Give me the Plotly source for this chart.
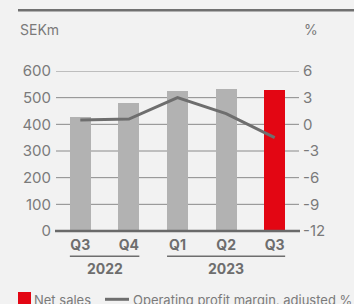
import plotly.graph_objects as go

quarters = ["Q3", "Q4", "Q1", "Q2", "Q3"]
years = ["2022", "2023"]
year_groups = [[0, 1], [2, 3, 4]]
net_sales = [428, 481, 526, 534, 530]
op_margin = [0.5, 0.6, 3.0, 1.2, -1.5]
left_ticks = [0, 100, 200, 300, 400, 500, 600]
right_ticks = [-12, -9, -6, -3, 0, 3, 6]
right_labels = ["-12", "-9", "-6", "-3", "0", "3", "6"]

W, H = 354, 304
L, R, T, B = 56, 55, 71, 73
PW, PH = W - L - R, H - T - B

def px(x):
    return (x - L) / PW

def py(y):
    return (H - B - y) / PH

FONT = "Inter, Roboto, Arial, sans-serif"
GREY_TXT = "#7a7a7a"
DARK = "#6e6e6e"
bar_colors = ["#b2b2b2"] * (len(net_sales) - 1) + ["#e30613"]
xs = list(range(len(quarters)))

fig = go.Figure()
fig.add_trace(go.Bar(x=xs, y=net_sales, marker=dict(color=bar_colors, line=dict(width=0)),
                     width=0.43, showlegend=False, hoverinfo="skip"))
fig.add_trace(go.Scatter(x=xs, y=op_margin, yaxis="y2", mode="lines",
                         line=dict(color=DARK, width=3), showlegend=False, hoverinfo="skip"))

fig.update_layout(
    width=W, height=H,
    margin=dict(l=L, r=R, t=T, b=B),
    paper_bgcolor="#f2f2f2", plot_bgcolor="#f2f2f2",
    font=dict(family=FONT, size=15, color=GREY_TXT),
    xaxis=dict(range=[-0.5, 4.5], tickmode="array", tickvals=xs, ticktext=quarters,
               tickfont=dict(size=14, color=DARK, family=FONT, weight="bold"),
               showgrid=False, zeroline=False, showline=False, ticks="",
               ticklabelstandoff=4, fixedrange=True),
    yaxis=dict(range=[0, 600], tickvals=left_ticks, showgrid=False,
               zeroline=False, showline=False, ticks="",
               ticklabelstandoff=4, tickfont=dict(size=15, color=GREY_TXT)),
    yaxis2=dict(range=[-12, 6], tickvals=right_ticks, ticktext=right_labels,
                overlaying="y", side="right",
                showgrid=False, zeroline=False, showline=False, ticks="",
                ticklabelstandoff=3, tickfont=dict(size=15, color=GREY_TXT)),
    bargap=0,
)

shapes = []
annotations = []
# gridlines
for v in left_ticks[1:]:
    shapes.append(dict(type="line", xref="paper", yref="y", x0=0, x1=1, y0=v, y1=v,
                       layer="below", line=dict(color="#8a8a8a", width=1)))
# top rule
shapes.append(dict(type="line", xref="paper", yref="paper", x0=px(18), x1=px(354),
                   y0=py(10.3), y1=py(10.3), line=dict(color="#707070", width=2.5)))
# baseline
shapes.append(dict(type="line", xref="paper", yref="paper", x0=px(55), x1=px(300),
                   y0=0, y1=0, line=dict(color="#6a6a6a", width=2.5)))
# year underlines & labels
for yr, grp in zip(years, year_groups):
    x0, x1 = grp[0] - 0.215, grp[-1] + 0.215
    shapes.append(dict(type="line", xref="x", yref="paper", x0=x0, x1=x1,
                       y0=py(256.3), y1=py(256.3), line=dict(color=DARK, width=1.5)))
    annotations.append(dict(x=(grp[0] + grp[-1]) / 2, xref="x", y=py(268), yref="paper",
                            text=yr, showarrow=False, xanchor="center", yanchor="middle",
                            font=dict(size=14, color=DARK, family=FONT, weight="bold")))
# axis titles
annotations.append(dict(x=px(18), xref="paper", y=py(30), yref="paper", text="SEKm",
                        showarrow=False, xanchor="left", yanchor="middle",
                        font=dict(size=14, color=GREY_TXT)))
annotations.append(dict(x=px(302), xref="paper", y=py(30), yref="paper", text="%",
                        showarrow=False, xanchor="left", yanchor="middle",
                        font=dict(size=14, color=GREY_TXT)))
# legend
shapes.append(dict(type="rect", xref="paper", yref="paper", x0=px(18), x1=px(31),
                   y0=py(305), y1=py(292), fillcolor="#e30613", line=dict(width=0)))
shapes.append(dict(type="line", xref="paper", yref="paper", x0=px(105), x1=px(129),
                   y0=py(299.3), y1=py(299.3), line=dict(color=DARK, width=3)))
annotations.append(dict(x=px(32), xref="paper", y=py(300), yref="paper", text="Net sales",
                        showarrow=False, xanchor="left", yanchor="middle",
                        font=dict(size=13, color=GREY_TXT)))
annotations.append(dict(x=px(131), xref="paper", y=py(300), yref="paper",
                        text="Operating profit margin, adjusted %",
                        showarrow=False, xanchor="left", yanchor="middle",
                        font=dict(size=13, color=GREY_TXT)))
fig.update_layout(shapes=shapes, annotations=annotations)

fig.write_html("out.html", config={"displayModeBar": False},
               post_script="document.body.style.margin='0';document.body.style.background='#f2f2f2';")
